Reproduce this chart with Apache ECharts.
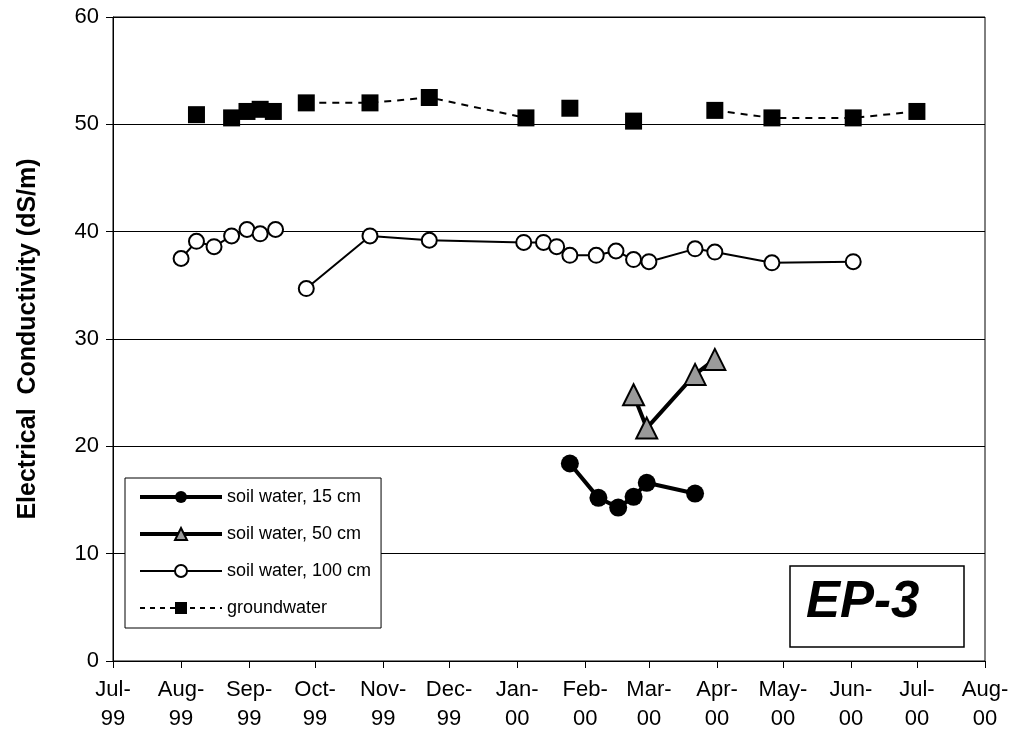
<!DOCTYPE html>
<html>
<head>
<meta charset="utf-8">
<script src="https://cdn.jsdelivr.net/npm/echarts@6/dist/echarts.min.js"></script>
<style>
  html, body { margin: 0; padding: 0; background: #fff; }
  #chart { width: 1015px; height: 739px; }
</style>
</head>
<body>
<div id="chart"></div>
<script>
// soil water, 15 cm
var cm15Dates = ['2000-01-25', '2000-02-07', '2000-02-16', '2000-02-23', '2000-02-29', '2000-03-22'];
var cm15Values = [18.4, 15.2, 14.3, 15.3, 16.6, 15.6];

// soil water, 50 cm
var cm50Dates = ['2000-02-23', '2000-02-29', '2000-03-22', '2000-03-31'];
var cm50Values = [24.8, 21.7, 26.7, 28.1];

// soil water, 100 cm (segment number changes where the line breaks)
var cm100Dates = ['1999-08-01', '1999-08-08', '1999-08-16', '1999-08-24', '1999-08-31', '1999-09-06', '1999-09-13',
                  '1999-09-27', '1999-10-26', '1999-11-22', '2000-01-04', '2000-01-13', '2000-01-19', '2000-01-25',
                  '2000-02-06', '2000-02-15', '2000-02-23', '2000-03-01', '2000-03-22', '2000-03-31', '2000-04-26', '2000-06-02'];
var cm100Values = [37.5, 39.1, 38.6, 39.6, 40.2, 39.8, 40.2,
                   34.7, 39.6, 39.2, 39.0, 39.0, 38.6, 37.8,
                   37.8, 38.2, 37.4, 37.2, 38.4, 38.1, 37.1, 37.2];
var cm100Segs = [0, 0, 0, 0, 0, 0, 0,
                 1, 1, 1, 1, 1, 1, 1,
                 1, 1, 1, 1, 1, 1, 1, 1];

// groundwater
var gwDates = ['1999-08-08', '1999-08-24', '1999-08-31', '1999-09-06', '1999-09-12', '1999-09-27', '1999-10-26',
               '1999-11-22', '2000-01-05', '2000-01-25', '2000-02-23', '2000-03-31', '2000-04-26', '2000-06-02', '2000-07-01'];
var gwValues = [50.9, 50.6, 51.2, 51.4, 51.2, 52.0, 52.0,
                52.5, 50.6, 51.5, 50.3, 51.3, 50.6, 50.6, 51.2];
var gwSegs = [0, 1, 2, 3, 4, 5, 5,
              5, 5, 6, 7, 8, 8, 8, 8];

var monthNames = ['Jan', 'Feb', 'Mar', 'Apr', 'May', 'Jun', 'Jul', 'Aug', 'Sep', 'Oct', 'Nov', 'Dec'];
var seriesNames = ['soil water, 15 cm', 'soil water, 50 cm', 'soil water, 100 cm', 'groundwater'];

var FONT = "'Liberation Sans', Arial, sans-serif";

function buildData(dates, values, segs) {
	var out = [];
	for (var i = 0; i < dates.length; i++) {
		if (segs && i > 0 && segs[i] !== segs[i - 1]) {
			out.push([dates[i - 1], '-']);
		}
		out.push([dates[i], values[i]]);
	}
	return out;
}

var option = {
	animation: false,
	backgroundColor: '#fff',
	textStyle: { fontFamily: FONT, color: '#000' },
	grid: {
		left: 113, right: 30, top: 17, bottom: 78,
		show: true, borderColor: '#000', borderWidth: 1, backgroundColor: 'transparent'
	},
	legend: {
		orient: 'vertical',
		left: 125, top: 478,
		padding: [10, 10, 11, 13],
		itemGap: 19,
		itemWidth: 82, itemHeight: 15,
		backgroundColor: '#fff',
		borderColor: '#000', borderWidth: 1,
		textStyle: { fontFamily: FONT, fontSize: 18, color: '#000' },
		data: [
			{ name: seriesNames[0], lineStyle: { width: 4 }, itemStyle: { borderWidth: 0 } },
			{ name: seriesNames[1], lineStyle: { width: 4 }, itemStyle: { borderWidth: 2 } },
			{ name: seriesNames[2], lineStyle: { width: 2 }, itemStyle: { borderWidth: 2 } },
			{ name: seriesNames[3], lineStyle: { width: 2, type: [5, 5] }, itemStyle: { borderWidth: 0 } }
		]
	},
	xAxis: {
		type: 'time',
		min: '1999-07-01',
		max: '2000-08-01',
		splitNumber: 13,
		axisLine: { lineStyle: { color: '#000', width: 1 } },
		axisTick: { show: true, length: 7, lineStyle: { color: '#000' } },
		splitLine: { show: false },
		axisLabel: {
			margin: 14,
			fontFamily: FONT, fontSize: 22, color: '#000', lineHeight: 29,
			showMinLabel: true, showMaxLabel: true, hideOverlap: false,
			formatter: function (v) {
				var d = new Date(v);
				var yy = String(d.getFullYear()).slice(2);
				return monthNames[d.getMonth()] + '-\n' + yy;
			}
		}
	},
	yAxis: {
		type: 'value',
		min: 0, max: 60, interval: 10,
		name: 'Electrical  Conductivity (dS/m)',
		nameLocation: 'middle',
		nameGap: 72,
		nameTextStyle: { fontFamily: FONT, fontSize: 25, fontWeight: 'bold', color: '#000' },
		axisLine: { show: true, lineStyle: { color: '#000', width: 1 } },
		axisTick: { show: true, length: 7, lineStyle: { color: '#000' } },
		axisLabel: { margin: 14, fontFamily: FONT, fontSize: 22, color: '#000' },
		splitLine: { show: true, lineStyle: { color: '#000', width: 1 } }
	},
	series: [
		{
			name: seriesNames[0],
			type: 'line',
			data: buildData(cm15Dates, cm15Values),
			symbol: 'circle', symbolSize: 18,
			itemStyle: { color: '#000' },
			lineStyle: { color: '#000', width: 4 },
			z: 4
		},
		{
			name: seriesNames[1],
			type: 'line',
			data: buildData(cm50Dates, cm50Values),
			symbol: 'triangle', symbolSize: 21,
			itemStyle: { color: '#9a9a9a', borderColor: '#000', borderWidth: 2 },
			lineStyle: { color: '#000', width: 4 },
			z: 4
		},
		{
			name: seriesNames[2],
			type: 'line',
			data: buildData(cm100Dates, cm100Values, cm100Segs),
			symbol: 'circle', symbolSize: 15,
			itemStyle: { color: '#fff', borderColor: '#000', borderWidth: 2 },
			lineStyle: { color: '#000', width: 2 },
			connectNulls: false,
			z: 3
		},
		{
			name: seriesNames[3],
			type: 'line',
			data: buildData(gwDates, gwValues, gwSegs),
			symbol: 'rect', symbolSize: 17,
			itemStyle: { color: '#000' },
			lineStyle: { color: '#000', width: 2, type: [7, 6] },
			connectNulls: false,
			z: 3
		}
	],
	graphic: [
		{
			type: 'rect',
			shape: { x: 790, y: 566, width: 174, height: 81 },
			style: { fill: '#fff', stroke: '#000', lineWidth: 1.5 },
			z: 10
		},
		{
			type: 'text',
			x: 806, y: 603,
			style: {
				text: 'EP-3',
				fontFamily: FONT, fontSize: 51, fontWeight: 'bold', fontStyle: 'italic',
				fill: '#000', textVerticalAlign: 'middle', verticalAlign: 'middle'
			},
			z: 11
		}
	]
};

var myChart = echarts.init(document.getElementById('chart'), null, { renderer: 'canvas' });
myChart.setOption(option);
</script>
</body>
</html>
